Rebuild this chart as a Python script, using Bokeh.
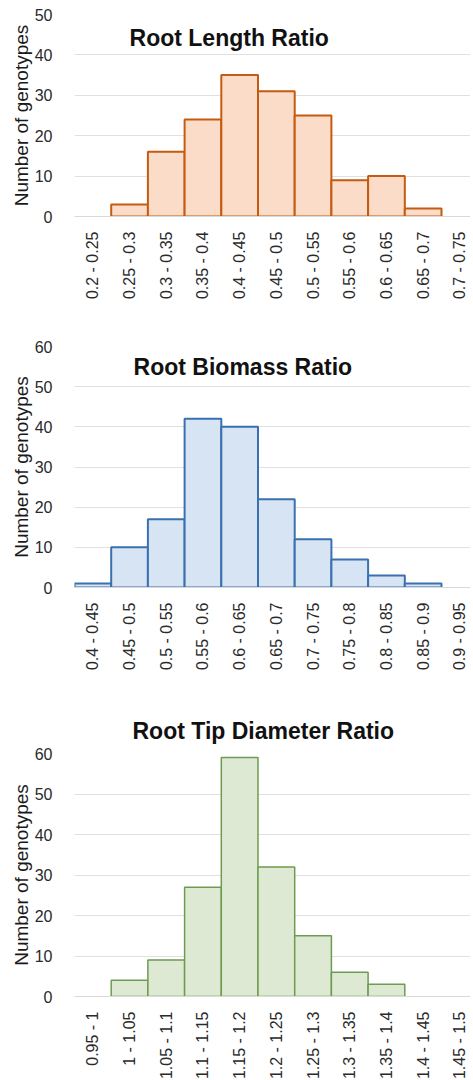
from bokeh.plotting import figure
from bokeh.layouts import column
from bokeh.models import Range1d, FixedTicker, SingleIntervalTicker, Label, ColumnDataSource
from bokeh.embed import file_html
from bokeh.resources import INLINE
from math import pi

# ---- data ----
length_bins = ["0.2 - 0.25", "0.25 - 0.3", "0.3 - 0.35", "0.35 - 0.4", "0.4 - 0.45", "0.45 - 0.5",
               "0.5 - 0.55", "0.55 - 0.6", "0.6 - 0.65", "0.65 - 0.7", "0.7 - 0.75"]
length_counts = [0, 3, 16, 24, 35, 31, 25, 9, 10, 2, 0]

biomass_bins = ["0.4 - 0.45", "0.45 - 0.5", "0.5 - 0.55", "0.55 - 0.6", "0.6 - 0.65", "0.65 - 0.7",
                "0.7 - 0.75", "0.75 - 0.8", "0.8 - 0.85", "0.85 - 0.9", "0.9 - 0.95"]
biomass_counts = [1, 10, 17, 42, 40, 22, 12, 7, 3, 1, 0]

tip_bins = ["0.95 - 1", "1 - 1.05", "1.05 - 1.1", "1.1 - 1.15", "1.15 - 1.2", "1.2 - 1.25",
            "1.25 - 1.3", "1.3 - 1.35", "1.35 - 1.4", "1.4 - 1.45", "1.45 - 1.5"]
tip_counts = [0, 4, 9, 27, 59, 32, 15, 6, 3, 0, 0]

FONT = "Liberation Sans"


def make_hist(bins, counts, ymax, line_color, fill_color,
              frame_h, border_top, border_bottom, line_w):
    p = figure(width=470, frame_width=396, frame_height=frame_h,
               x_range=Range1d(-0.5, 10.29), y_range=Range1d(0, ymax),
               output_backend="svg", toolbar_location=None,
               min_border_left=74, min_border_right=0,
               min_border_top=border_top, min_border_bottom=border_bottom)
    p.outline_line_color = None
    p.background_fill_color = "white"

    idx = [i for i, c in enumerate(counts) if c > 0]
    src = ColumnDataSource(dict(x=idx, top=[counts[i] for i in idx]))
    p.vbar(x="x", top="top", bottom=0, width=1.0, source=src,
           fill_color=fill_color, line_color=line_color, line_width=line_w)

    # x axis
    xa = p.xaxis[0]
    xa.ticker = FixedTicker(ticks=list(range(len(bins))))
    xa.major_label_overrides = {i: b for i, b in enumerate(bins)}
    xa.major_label_orientation = pi / 2
    xa.major_tick_line_color = None
    xa.minor_tick_line_color = None
    xa.axis_line_color = "#d9d9d9"
    xa.major_label_standoff = 9
    xa.major_label_text_font = FONT
    xa.major_label_text_font_size = "16px"
    xa.major_label_text_color = "#2a2a2a"
    p.xgrid.grid_line_color = None

    # y axis
    ya = p.yaxis[0]
    ya.ticker = SingleIntervalTicker(interval=10)
    ya.axis_line_color = None
    ya.major_tick_line_color = None
    ya.minor_tick_line_color = None
    ya.major_label_standoff = 16
    ya.major_label_text_font = FONT
    ya.major_label_text_font_size = "16px"
    ya.major_label_text_color = "#2a2a2a"
    ya.axis_label = "Number of genotypes"
    ya.axis_label_text_font = FONT
    ya.axis_label_text_font_size = "19px"
    ya.axis_label_text_font_style = "normal"
    ya.axis_label_text_color = "#1a1a1a"
    ya.axis_label_standoff = 0
    p.ygrid.grid_line_color = "#e0e0e0"
    p.ygrid.ticker = SingleIntervalTicker(interval=10)
    return p


def inner_title(p, text, x, y):
    p.add_layout(Label(x=x, y=y, text=text, text_font=FONT,
                       text_font_size="23px", text_font_style="bold",
                       text_color="#111111", text_baseline="alphabetic",
                       text_align="left"))


p1 = make_hist(length_bins, length_counts, 50, "#c55a11", "#fbdcc8", 202, 14, 103, 2)
inner_title(p1, "Root Length Ratio", 1.0, 44.3)

p2 = make_hist(biomass_bins, biomass_counts, 60, "#3a70b0", "#d6e4f4", 241, 27, 112, 2)
inner_title(p2, "Root Biomass Ratio", 1.11, 55.0)

p3 = make_hist(tip_bins, tip_counts, 60, "#6e9b50", "#dde9d3", 243, 54, 75, 1.5)
p3.title.text = "Root Tip Diameter Ratio"
p3.title.text_font = FONT
p3.title.text_font_size = "23px"
p3.title.text_font_style = "bold"
p3.title.text_color = "#111111"
p3.title.align = "left"
p3.title.offset = 58
p3.title.standoff = 20

layout = column(p1, p2, p3, spacing=0)
open("out.html", "w").write(file_html(layout, INLINE))
